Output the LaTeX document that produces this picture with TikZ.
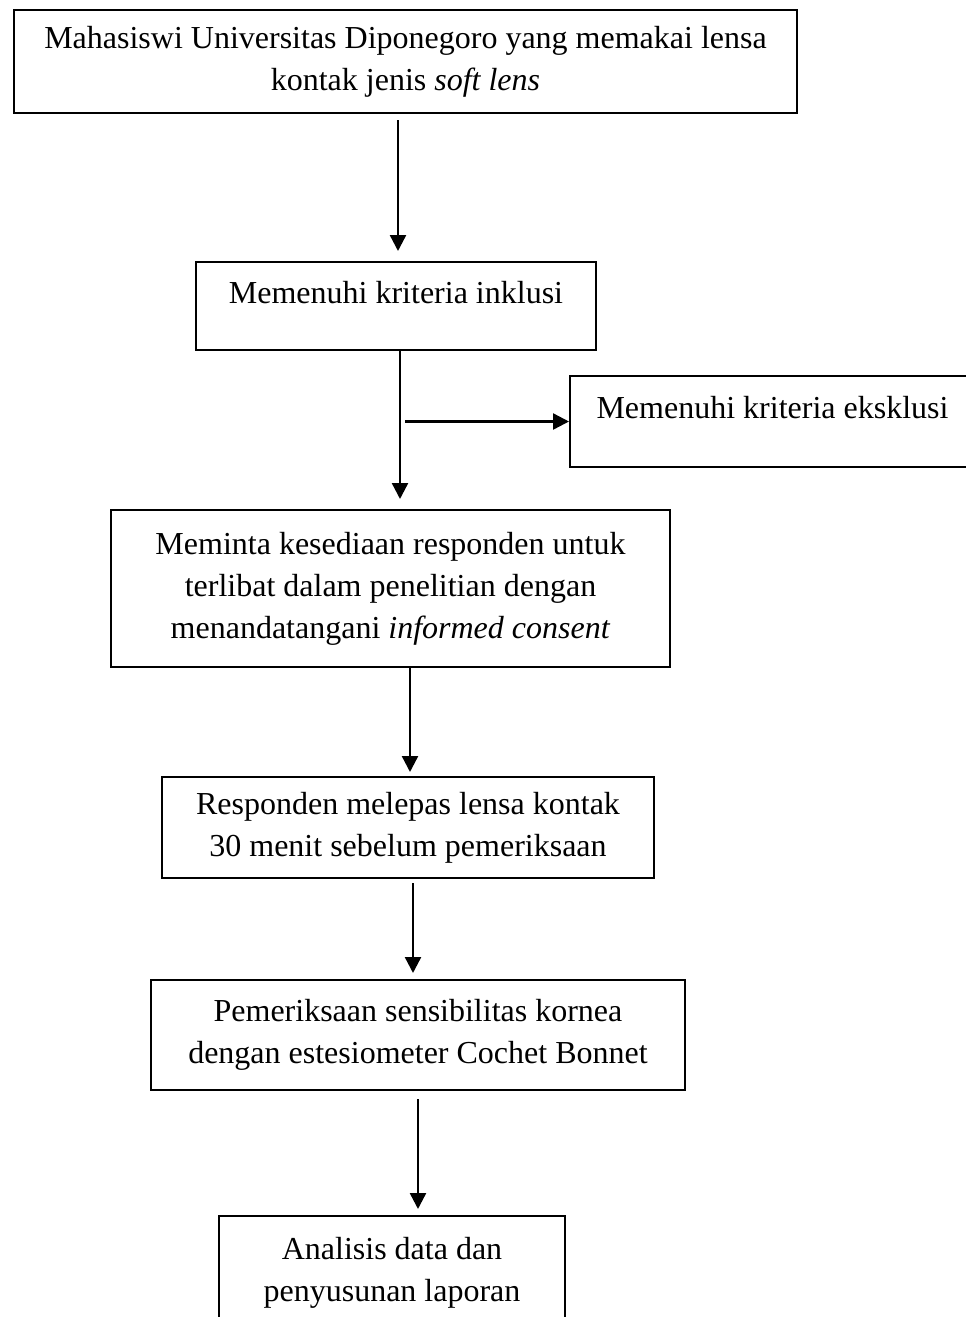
\documentclass[tikz,border=0pt]{standalone}
\usepackage{fontspec}
\setmainfont{Liberation Serif}
\usetikzlibrary{arrows.meta}
\begin{document}
\begin{tikzpicture}[x=0.5pt,y=-0.5pt,
      kotak/.style={draw,line width=1pt,align=center,inner sep=0pt,
        font=\fontsize{16}{21}\selectfont},
      panah/.style={-{Triangle[length=8pt,width=8pt]},line width=1.2pt},
      ]
      \useasboundingbox (0,0) rectangle (965,1317);

      \node[kotak,minimum width=391.5pt,minimum height=51.5pt] (mhs) at (405.5,61.5)
        {Mahasiswi Universitas Diponegoro yang memakai lensa\\kontak jenis \textit{soft lens}};
      \node[kotak,minimum width=200pt,minimum height=44pt,text height=11pt,text depth=13.8pt] (inkl) at (396,306)
        {Memenuhi kriteria inklusi};
      \node[kotak,minimum width=202.5pt,minimum height=45.5pt,text height=11pt,text depth=13.8pt] (eks) at (772.5,421.5)
        {Memenuhi kriteria eksklusi};
      \node[kotak,minimum width=279.5pt,minimum height=78.5pt] (izin) at (390.5,588.5)
        {Meminta kesediaan responden untuk\\terlibat dalam penelitian dengan\\menandatangani \textit{informed consent}};
      \node[kotak,minimum width=246pt,minimum height=50.5pt] (lepas) at (408,827.5)
        {Responden melepas lensa kontak\\30 menit sebelum pemeriksaan};
      \node[kotak,minimum width=267pt,minimum height=55pt] (periksa) at (418,1035)
        {Pemeriksaan sensibilitas kornea\\dengan estesiometer Cochet Bonnet};
      \node[kotak,minimum width=173pt,minimum height=57pt] (analisis) at (392,1273)
        {Analisis data dan\\penyusunan laporan};

      \coordinate (cabang) at (405,421.5);

      \draw[panah,shorten <=3pt,shorten >=5pt] ([xshift=1pt]inkl.north |- mhs.south) -- ([xshift=1pt]inkl.north);
      \draw[panah,shorten >=5pt] ([xshift=2pt]inkl.south) -- ([xshift=2pt]inkl.south |- izin.north);
      \draw[panah] (cabang) -- (eks.west);
      \draw[panah,shorten >=2pt] ([xshift=1pt]lepas.north |- izin.south) -- ([xshift=1pt]lepas.north);
      \draw[panah,shorten <=2pt,shorten >=3pt] ([xshift=2.5pt]lepas.south) -- ([xshift=2.5pt]lepas.south |- periksa.north);
      \draw[panah,shorten <=4pt,shorten >=3pt] (periksa.south) -- (periksa.south |- analisis.north);
\end{tikzpicture}
\end{document}
